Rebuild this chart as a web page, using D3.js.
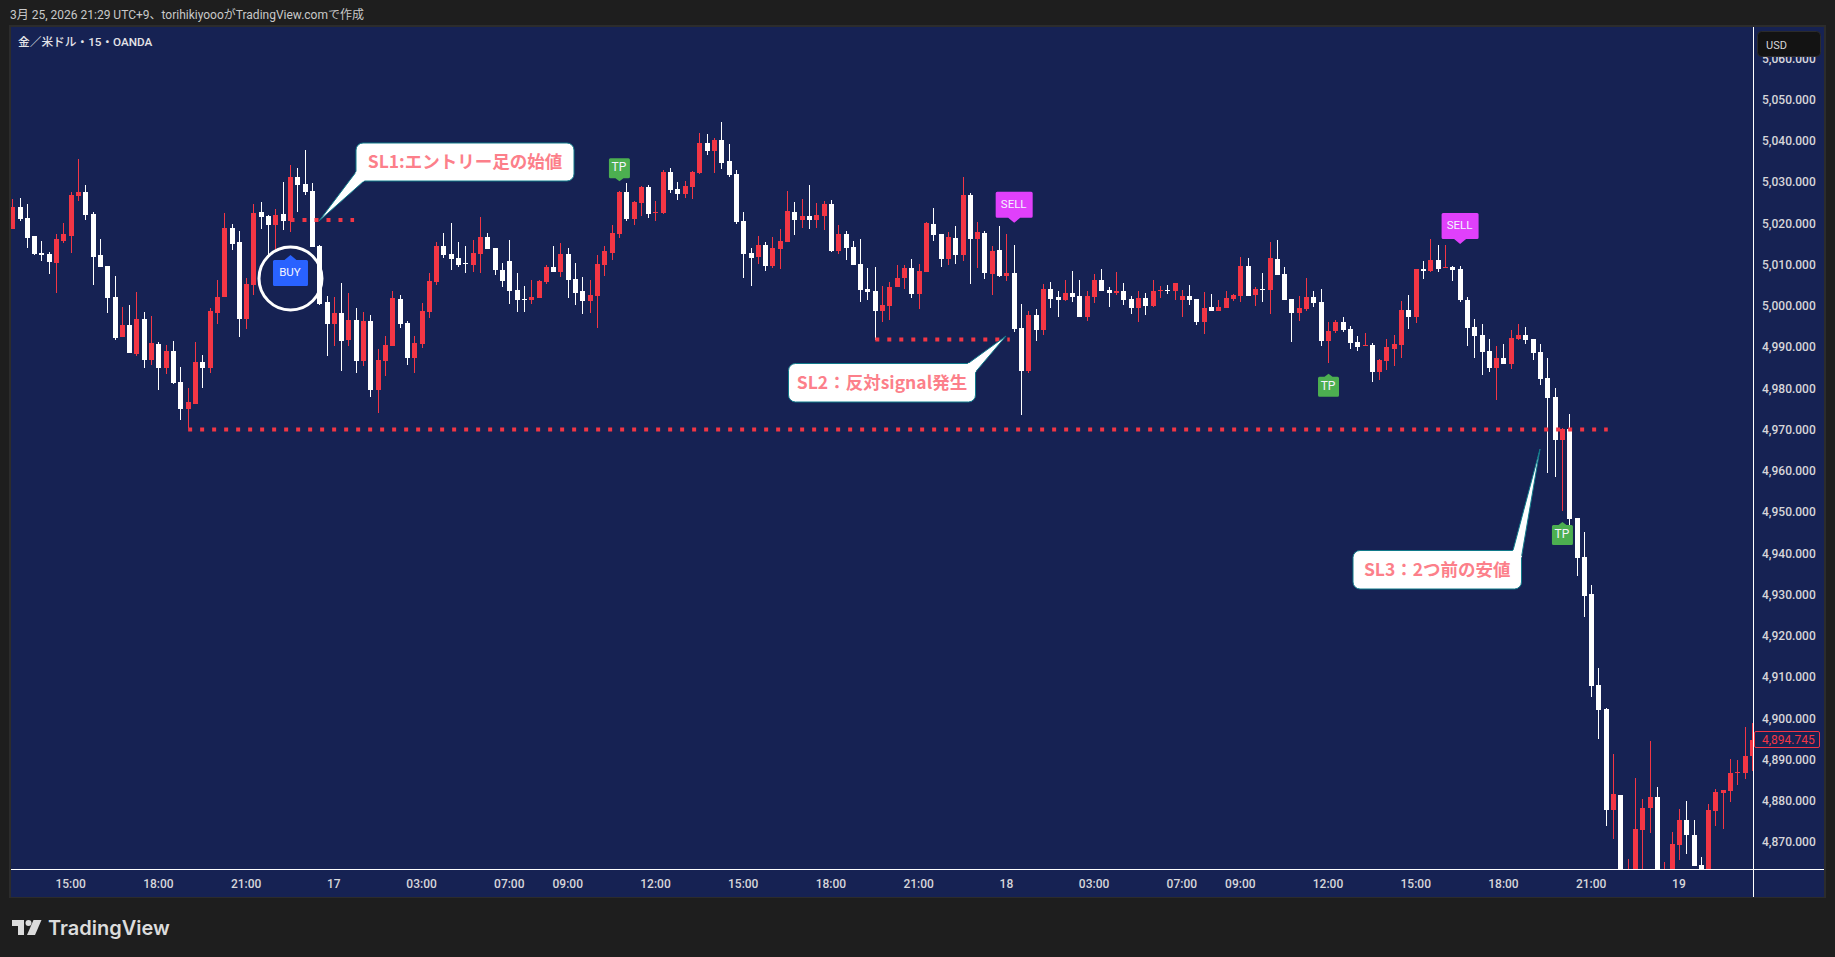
<!DOCTYPE html>
<html>
<head>
<meta charset="utf-8">
<style>
html, body { margin: 0; padding: 0; background: #1e1e1e; overflow: hidden; }
text { font-family: Roboto, "Noto Sans CJK JP", sans-serif; }
</style>
<script src="https://cdn.jsdelivr.net/npm/d3@7"></script>
</head>
<body>
<svg id="chart" width="1835" height="957"></svg>
<script>
// bar number 1 is the leftmost candle on the 15 minute chart
var opens = [
5018.6,5023.9,5021.3,5016.9,5012.8,5012.5,5010.4,5015.7,5016.9,5026.6,5027.6,5022.2,5012.3,5009.6,5002.1,4992.4,4995.3,4988.3,4996.8,4986.9,
4990.7,4984.9,4989.0,4981.5,4975.0,4976.2,4986.4,4984.9,4998.2,5002.1,5018.9,5015.5,4996.8,5005.0,5022.7,5021.8,5019.6,5022.2,5020.5,5031.2,
5029.5,5027.8,5014.5,5000.9,4995.6,4998.2,4991.7,4996.5,4986.6,4996.3,4979.6,4986.6,4990.2,5001.6,4995.8,4987.3,4990.7,4998.5,5005.8,5014.5,
5012.5,5011.6,5010.4,5009.9,5012.5,5016.7,5014.0,5008.7,5010.9,5003.8,5001.6,5001.4,5001.9,5005.8,5009.4,5008.2,5012.5,5006.5,5003.6,5001.2,
5002.4,5009.9,5012.8,5017.4,5027.6,5021.0,5024.9,5028.8,5022.5,5022.5,5032.4,5028.3,5027.1,5028.8,5032.2,5039.5,5037.5,5040.2,5035.1,5031.9,
5020.5,5012.8,5011.8,5014.7,5009.6,5013.8,5015.5,5022.7,5020.8,5021.8,5020.8,5021.8,5024.7,5013.3,5017.4,5014.2,5010.1,5004.1,5003.6,4998.7,
5000.0,5004.5,5006.7,5009.2,5002.8,5008.2,5019.8,5017.4,5011.3,5016.4,5012.3,5026.8,5016.2,5017.6,5007.7,5013.5,5007.2,5007.9,4994.6,4984.2,
4997.8,4994.1,5004.1,5002.1,5001.4,5003.1,5002.4,4997.3,5002.1,5006.2,5003.8,5003.1,5003.6,5001.6,4999.5,5001.9,4999.9,5003.6,5003.8,5003.6,
5001.4,5002.4,5001.6,4996.1,4999.7,4998.7,4999.5,5001.6,5002.4,5009.6,5002.6,5004.1,5003.8,5011.3,5007.7,5001.6,4998.2,4999.2,5002.1,5000.9,
4991.4,4993.9,4996.1,4994.4,4991.2,4990.2,4990.5,4983.9,4986.6,4989.5,4990.5,4999.0,4997.3,5008.9,5008.4,5011.1,5009.2,5009.4,5008.9,5001.4,
4994.9,4992.9,4989.0,4984.9,4987.3,4985.9,4991.9,4992.9,4991.9,4988.8,4982.5,4977.9,4967.5,4970.1,4948.5,4939.1,4930.1,4908.1,4902.2,4877.8,
4881.4,4851.1,4852.7,4872.9,4878.2,4880.9,4854.3,4859.2,4869.3,4875.3,4871.7,4864.4,4857.6,4877.5,4881.9,4882.4,4886.7,4886.7,4890.8];
var closes = [
5023.9,5021.0,5016.4,5012.5,5012.3,5010.6,5016.2,5017.4,5026.9,5027.6,5022.0,5011.8,5009.4,5001.9,4992.2,4995.3,4988.6,4996.8,4986.9,4991.0,
4984.9,4989.0,4981.3,4975.0,4976.7,4986.4,4984.9,4998.7,5002.1,5018.9,5015.0,4996.8,5005.3,5022.5,5021.5,5019.6,5022.0,5020.5,5031.2,5029.3,
5027.6,5014.2,5000.4,4995.6,4998.2,4991.5,4996.5,4986.6,4996.3,4979.6,4986.9,4990.5,5001.9,4995.6,4987.3,4991.0,4998.7,5006.0,5014.5,5012.3,
5011.3,5009.9,5010.1,5012.8,5016.7,5013.8,5008.7,5006.0,5003.6,5001.4,5001.4,5002.1,5006.0,5009.4,5008.2,5012.5,5006.2,5003.1,5001.2,5002.6,
5010.1,5013.3,5017.6,5027.6,5021.0,5025.2,5028.8,5022.2,5022.7,5032.4,5028.1,5027.1,5029.0,5032.4,5039.5,5037.5,5040.2,5034.6,5031.7,5020.3,
5012.5,5011.6,5014.7,5009.6,5014.0,5015.7,5023.0,5020.8,5021.8,5020.8,5022.0,5024.7,5013.3,5017.4,5014.0,5009.9,5003.8,5003.3,4998.7,5000.2,
5004.5,5006.7,5009.2,5002.8,5008.4,5020.1,5017.1,5011.3,5016.7,5012.3,5026.8,5016.2,5017.9,5007.9,5013.3,5007.2,5007.9,4994.4,4984.2,4997.8,
4994.1,5004.1,5001.6,5001.4,5003.1,5002.1,4997.3,5002.4,5006.2,5003.6,5003.1,5003.6,5001.4,4999.5,5001.9,4999.9,5003.6,5003.8,5003.6,5005.5,
5002.4,5001.4,4996.1,4999.5,4998.7,4999.7,5001.9,5002.6,5009.6,5002.4,5004.1,5003.8,5011.6,5007.5,5001.4,4998.2,4999.5,5002.1,5000.7,4991.4,
4993.9,4996.1,4994.1,4991.0,4990.0,4990.5,4983.9,4986.9,4990.0,4990.7,4999.0,4997.3,5008.9,5008.4,5011.1,5008.9,5009.4,5008.7,5001.4,4994.6,
4992.7,4988.8,4984.9,4987.3,4985.9,4992.2,4992.9,4991.7,4988.5,4982.2,4977.6,4967.5,4970.1,4948.3,4938.9,4929.6,4907.8,4902.0,4877.8,4881.6,
4852.7,4862.4,4873.2,4878.2,4880.9,4854.3,4861.6,4869.5,4875.3,4871.7,4864.2,4859.2,4877.8,4882.1,4882.6,4886.7,4887.0,4890.8,4894.7];
var highs = [
5025.9,5026.1,5024.7,5016.9,5015.7,5013.0,5017.4,5020.1,5027.6,5035.6,5029.3,5022.7,5016.2,5009.6,5007.2,4999.7,5000.2,5003.3,4998.5,4997.5,
4991.2,4990.5,4991.5,4985.2,4980.1,4991.2,4988.1,4999.5,5006.2,5022.5,5019.8,5018.1,5006.7,5024.7,5025.2,5022.0,5023.5,5030.0,5034.1,5033.4,
5037.8,5029.8,5014.7,5002.4,5002.1,5005.5,5003.1,4999.5,4998.5,4997.8,4989.5,4992.7,5003.6,5002.6,4996.3,4992.7,5000.7,5007.9,5015.5,5017.6,
5020.1,5015.5,5014.5,5015.9,5021.5,5017.6,5014.0,5010.4,5015.9,5007.9,5004.8,5006.2,5006.2,5009.9,5014.5,5015.2,5014.0,5010.4,5007.0,5006.2,
5012.3,5014.5,5019.6,5027.8,5029.8,5025.4,5029.0,5029.3,5025.4,5032.9,5033.4,5030.0,5030.2,5032.7,5041.9,5041.6,5040.7,5044.5,5039.2,5032.9,
5022.7,5014.0,5016.9,5015.5,5016.7,5018.6,5027.8,5025.2,5025.9,5029.3,5024.9,5025.4,5025.6,5019.6,5018.1,5015.7,5016.2,5009.2,5009.4,5004.8,
5005.8,5009.9,5009.9,5011.3,5010.1,5020.3,5023.7,5017.4,5017.9,5019.3,5031.2,5027.3,5020.3,5018.1,5014.5,5019.3,5017.4,5014.7,5000.4,4998.7,
4999.2,5005.3,5005.8,5003.6,5006.2,5008.4,5006.2,5003.6,5007.7,5008.9,5004.5,5008.2,5005.5,5002.4,5003.6,5003.1,5006.2,5004.8,5005.0,5005.5,
5003.8,5005.0,5001.6,5003.3,5002.8,5001.4,5003.6,5002.8,5011.8,5011.6,5004.5,5007.9,5015.5,5015.9,5009.4,5001.6,5002.4,5006.7,5003.6,5004.1,
4996.1,4996.5,4997.3,4995.1,4992.7,4993.4,4991.0,4987.1,4991.9,4992.9,5001.2,5002.6,5008.9,5010.9,5016.2,5014.7,5014.7,5009.6,5009.6,5002.1,
4996.8,4995.6,4991.9,4990.2,4990.7,4994.1,4995.6,4994.9,4991.9,4990.7,4987.3,4980.1,4970.4,4973.8,4948.5,4945.2,4932.3,4912.2,4902.5,4891.3,
4881.4,4865.9,4885.5,4880.4,4894.5,4883.3,4865.2,4872.4,4878.0,4879.9,4875.3,4866.4,4879.2,4882.8,4882.6,4890.1,4889.9,4897.9,4898.9];
var lows = [
5018.6,5020.5,5014.0,5012.3,5010.9,5007.7,5003.1,5015.2,5012.8,5025.4,5020.8,5005.0,5009.4,4998.2,4991.7,4992.4,4988.6,4987.8,4984.9,4985.6,
4979.6,4983.5,4981.0,4972.3,4970.4,4976.2,4980.1,4983.7,4995.6,5002.1,5013.5,4992.4,4994.4,5002.6,5018.6,5012.3,5013.5,5018.4,5017.9,5022.7,
5026.9,5014.2,5000.2,4987.8,4990.2,4984.2,4990.2,4983.7,4985.4,4977.9,4974.0,4983.0,4990.2,4994.6,4985.6,4983.7,4989.8,4997.0,5005.0,5011.6,
5008.7,5009.4,5007.9,5008.2,5007.9,5013.8,5007.5,5004.5,5000.4,4998.5,4998.5,5000.4,5001.9,5005.3,5008.2,5007.0,5001.9,5000.2,4998.0,4998.2,
4994.6,5007.2,5011.1,5016.4,5020.5,5019.6,5021.8,5021.3,5020.5,5022.2,5027.3,5025.6,5026.1,5025.9,5031.9,5036.6,5032.2,5033.1,5031.2,5019.8,
5006.7,5004.8,5010.1,5008.4,5009.2,5008.9,5015.5,5017.2,5018.9,5018.6,5018.9,5018.4,5013.0,5012.5,5011.1,5009.9,5000.9,5001.4,4991.7,4996.1,
4996.5,5004.5,5004.1,5001.9,4999.2,5008.2,5015.7,5009.4,5009.9,5010.1,5010.8,5005.3,5009.2,5006.5,5002.6,5007.0,5006.0,4993.6,4973.5,4983.7,
4991.4,4992.9,4999.5,4997.3,5001.2,5000.9,4997.3,4996.3,5000.7,5003.6,4999.7,5002.6,5000.2,4998.0,4996.1,4997.8,4999.7,5001.9,5002.8,5001.4,
4997.3,5000.2,4995.3,4993.2,4998.7,4998.7,4999.5,5001.2,5000.9,5002.4,4999.9,5000.9,4998.0,5007.5,5001.4,4991.2,4996.3,4998.7,4999.7,4990.2,
4986.1,4993.4,4993.6,4989.5,4989.0,4990.2,4981.5,4982.0,4984.4,4985.4,4987.3,4994.4,4995.8,5006.5,5008.2,5008.2,5009.2,5006.0,5000.9,4990.2,
4987.3,4983.2,4983.9,4977.2,4985.9,4984.7,4991.7,4990.7,4986.9,4980.8,4959.5,4958.5,4950.3,4946.1,4934.5,4924.5,4905.2,4895.0,4873.9,4870.7,
4849.5,4847.9,4848.7,4859.2,4872.2,4851.1,4851.1,4856.8,4865.6,4867.1,4864.2,4856.8,4855.1,4873.9,4873.2,4879.7,4883.8,4885.3,4887.2];

var priceTicks = [5060,5050,5040,5030,5020,5010,5000,4990,4980,4970,4960,4950,4940,4930,4920,4910,4900,4890,4880,4870];
var lastPrice = 4894.745;

var timeTickBars = [9,21,33,45,57,69,77,89,101,113,125,137,149,161,169,181,193,205,217,229];
var timeTickLabels = ['15:00','18:00','21:00','17','03:00','07:00','09:00','12:00','15:00','18:00','21:00','18','03:00','07:00','09:00','12:00','15:00','18:00','21:00','19'];

// signal labels: bar the tip points at, price at the tip
var signalNames = ['BUY','TP','SELL','TP','SELL','TP'];
var signalBars = [39,84,138,181,199,213];
var signalPrices = [5012.3,5030.2,5020.1,4983.5,5015.0,4947.6];
var signalDirs = ['up','down','down','up','down','up'];

// dotted stop loss levels
var levelFrom = [39,119,25];
var levelTo = [47.7,137.4,219.2];
var levelPrice = [5020.8,4991.8,4970];

var calloutTexts = ['SL1:エントリー足の始値','SL2：反対signal発生','SL3：2つ前の安値'];

var WIDTH = 1835, HEIGHT = 957;
var RED = '#f23645', WHITE = '#ffffff', NAVY = '#162253';
var AXIS_X = 1753, AXIS_Y = 869;

var svg = d3.select('#chart');

var x = d3.scaleLinear().domain([1, 239]).range([12.7, 1752.5]);
var y = d3.scaleLinear().domain([5050, 4870]).range([99.5, 842]);

// panel
svg.append('rect').attr('x', 9).attr('y', 25).attr('width', 1817).attr('height', 873).attr('fill', '#2c2c2c');
svg.append('rect').attr('x', 11).attr('y', 27).attr('width', 1813).attr('height', 870).attr('fill', NAVY);

svg.append('defs').append('clipPath').attr('id', 'plot')
    .append('rect').attr('x', 11).attr('y', 27).attr('width', AXIS_X - 11).attr('height', AXIS_Y - 27);

var plot = svg.append('g').attr('clip-path', 'url(#plot)');
var bars = d3.range(opens.length);

function barColor(i) {
    return closes[i] >= opens[i] ? RED : WHITE;
}

// wicks
plot.append('g').attr('shape-rendering', 'crispEdges').selectAll('rect')
    .data(bars).enter().append('rect')
    .attr('x', function (i) { return Math.round(x(i + 1) - 2.5) + 2; })
    .attr('width', 1)
    .attr('y', function (i) { return Math.round(y(highs[i])); })
    .attr('height', function (i) { return Math.max(1, Math.round(y(lows[i])) - Math.round(y(highs[i]))); })
    .attr('fill', barColor);

// bodies
plot.append('g').attr('shape-rendering', 'crispEdges').selectAll('rect')
    .data(bars).enter().append('rect')
    .attr('x', function (i) { return Math.round(x(i + 1) - 2.5); })
    .attr('width', 5)
    .attr('y', function (i) { return Math.round(y(Math.max(opens[i], closes[i]))); })
    .attr('height', function (i) {
        return Math.max(1, Math.round(y(Math.min(opens[i], closes[i]))) - Math.round(y(Math.max(opens[i], closes[i]))));
    })
    .attr('fill', barColor);

// dotted levels
plot.append('g').selectAll('line')
    .data(levelPrice).enter().append('line')
    .attr('x1', function (d, i) { return x(levelFrom[i]); })
    .attr('x2', function (d, i) { return x(levelTo[i]); })
    .attr('y1', function (d) { return y(d); })
    .attr('y2', function (d) { return y(d); })
    .attr('stroke', RED)
    .attr('stroke-width', 4)
    .attr('stroke-dasharray', '4 8');

// callouts, outline includes the tail
var calloutPaths = [
    { box: [356, 143, 574, 181], tail: [[364, 181], [319, 221], [356, 172]] },
    { box: [788.5, 363.5, 975.5, 402], tail: [[975.5, 372], [1006, 336], [968, 363.5]] },
    { box: [1353, 550.5, 1521.5, 589], tail: [[1513, 550.5], [1540, 449], [1521.5, 557]] }
];

function calloutPath(c) {
    var r = 7, l = c.box[0], t = c.box[1], rt = c.box[2], b = c.box[3];
    var p = d3.path();
    p.moveTo(l + r, t);
    p.lineTo(rt - r, t);
    p.arcTo(rt, t, rt, t + r, r);
    p.lineTo(rt, b - r);
    p.arcTo(rt, b, rt - r, b, r);
    p.lineTo(l + r, b);
    p.arcTo(l, b, l, b - r, r);
    p.lineTo(l, t + r);
    p.arcTo(l, t, l + r, t, r);
    p.closePath();
    return p.toString();
}

var callouts = svg.append('g');
callouts.selectAll('path.box')
    .data(calloutPaths).enter().append('path')
    .attr('class', 'box')
    .attr('d', calloutPath)
    .attr('fill', '#ffffff')
    .attr('stroke', '#0f7a8a')
    .attr('stroke-width', 1);
callouts.selectAll('path.tail')
    .data(calloutPaths).enter().append('path')
    .attr('class', 'tail')
    .attr('d', function (c) { return d3.line()(c.tail); })
    .attr('fill', '#ffffff')
    .attr('stroke', 'none');
callouts.selectAll('path.tailEdge')
    .data(calloutPaths).enter().append('path')
    .attr('class', 'tailEdge')
    .attr('d', function (c) { return 'M' + c.tail[0] + 'L' + c.tail[1] + 'L' + c.tail[2]; })
    .attr('fill', 'none')
    .attr('stroke', '#0f7a8a')
    .attr('stroke-width', 1);
callouts.selectAll('path.cover')
    .data(calloutPaths).enter().append('path')
    .attr('class', 'cover')
    .attr('d', function (c) { return 'M' + c.tail[0] + 'L' + c.tail[2]; })
    .attr('fill', 'none')
    .attr('stroke', '#ffffff')
    .attr('stroke-width', 2);
callouts.selectAll('text')
    .data(calloutTexts).enter().append('text')
    .attr('x', function (d, i) { return (calloutPaths[i].box[0] + calloutPaths[i].box[2]) / 2; })
    .attr('y', function (d, i) { return (calloutPaths[i].box[1] + calloutPaths[i].box[3]) / 2; })
    .attr('dy', '0.36em')
    .attr('text-anchor', 'middle')
    .attr('fill', '#fc7f8a')
    .style('font-family', '"Noto Sans CJK JP", sans-serif')
    .style('font-size', '17.5px')
    .style('font-weight', 700)
    .text(function (d) { return d; });

// signal labels
var signalColor = { BUY: '#2962ff', TP: '#4caf50', SELL: '#e040fb' };
var signalWidth = { BUY: 35, TP: 21, SELL: 37 };
var signalHeight = { BUY: 26, TP: 20, SELL: 26 };

function signalShape(i) {
    var name = signalNames[i], w = signalWidth[name], h = signalHeight[name];
    var cx = x(signalBars[i]), tip = y(signalPrices[i]);
    var dir = signalDirs[i] === 'up' ? 1 : -1;
    var arrow = name === 'TP' ? 3 : 5;
    var near = tip + dir * arrow, far = near + dir * h;
    var p = d3.path();
    p.moveTo(cx, tip);
    p.lineTo(cx + arrow + 1, near);
    p.lineTo(cx + w / 2 - 1.5, near);
    p.quadraticCurveTo(cx + w / 2, near, cx + w / 2, near + dir * 1.5);
    p.lineTo(cx + w / 2, far - dir * 1.5);
    p.quadraticCurveTo(cx + w / 2, far, cx + w / 2 - 1.5, far);
    p.lineTo(cx - w / 2 + 1.5, far);
    p.quadraticCurveTo(cx - w / 2, far, cx - w / 2, far - dir * 1.5);
    p.lineTo(cx - w / 2, near + dir * 1.5);
    p.quadraticCurveTo(cx - w / 2, near, cx - w / 2 + 1.5, near);
    p.lineTo(cx - arrow - 1, near);
    p.closePath();
    return p.toString();
}

var signals = svg.append('g');
signals.selectAll('path')
    .data(signalNames).enter().append('path')
    .attr('d', function (d, i) { return signalShape(i); })
    .attr('fill', function (d) { return signalColor[d]; });
signals.selectAll('text')
    .data(signalNames).enter().append('text')
    .attr('x', function (d, i) { return x(signalBars[i]) - 0.5; })
    .attr('y', function (d, i) {
        var dir = signalDirs[i] === 'up' ? 1 : -1;
        var arrow = d === 'TP' ? 3 : 5;
        return y(signalPrices[i]) + dir * (arrow + signalHeight[d] / 2) - 1;
    })
    .attr('dy', '0.36em')
    .attr('text-anchor', 'middle')
    .attr('fill', '#f4f4ff')
    .style('font-size', function (d) { return d === 'TP' ? '12px' : '11.5px'; })
    .style('font-weight', 400)
    .text(function (d) { return d; });

// ring round the buy label
svg.append('circle')
    .attr('cx', x(signalBars[0]))
    .attr('cy', 278.5)
    .attr('r', 31.5)
    .attr('fill', 'none')
    .attr('stroke', '#ffffff')
    .attr('stroke-width', 3);

// axes
var priceAxis = d3.axisRight(y)
    .tickValues(priceTicks)
    .tickSize(0)
    .tickPadding(9)
    .tickFormat(d3.format(',.3f'));
var priceG = svg.append('g').attr('transform', 'translate(' + AXIS_X + ',0)').call(priceAxis);
priceG.select('.domain').remove();
priceG.selectAll('text')
    .attr('fill', '#d6d6da')
    .style('font-family', 'Roboto, sans-serif')
    .style('font-size', '12px')
    .style('font-weight', 500);

var timeAxis = d3.axisBottom(x)
    .tickValues(timeTickBars)
    .tickSize(0)
    .tickPadding(10)
    .tickFormat(function (d, i) { return timeTickLabels[i]; });
var timeG = svg.append('g').attr('transform', 'translate(-1,' + AXIS_Y + ')').call(timeAxis);
timeG.select('.domain').remove();
timeG.selectAll('text')
    .attr('fill', '#d6d6da')
    .style('font-family', 'Roboto, sans-serif')
    .style('font-size', '12px')
    .style('font-weight', 500);

// axis border lines
svg.append('line').attr('x1', 11).attr('x2', 1824).attr('y1', AXIS_Y).attr('y2', AXIS_Y)
    .attr('stroke', '#ffffff').attr('shape-rendering', 'crispEdges');
svg.append('line').attr('x1', AXIS_X + 0.5).attr('x2', AXIS_X + 0.5).attr('y1', 27).attr('y2', 897)
    .attr('stroke', '#ffffff').attr('shape-rendering', 'crispEdges');

// last price tag
svg.append('rect')
    .attr('x', 1754.5).attr('y', Math.round(y(lastPrice)) - 8.5)
    .attr('width', 65).attr('height', 16).attr('rx', 1.5)
    .attr('fill', NAVY).attr('stroke', RED);
svg.append('text')
    .attr('x', 1762).attr('y', y(lastPrice))
    .attr('dy', '0.34em')
    .attr('fill', RED)
    .style('font-size', '12px')
    .style('font-weight', 400)
    .text(d3.format(',.3f')(lastPrice));

// currency box
svg.append('rect')
    .attr('x', 1757.5).attr('y', 31.5).attr('width', 63).attr('height', 25).attr('rx', 4)
    .attr('fill', '#131313').attr('stroke', '#2b2b2b');
svg.append('text')
    .attr('x', 1766).attr('y', 45).attr('dy', '0.35em')
    .attr('fill', '#d6d6da')
    .style('font-size', '11px')
    .text('USD');

// header text
svg.append('text')
    .attr('x', 10).attr('y', 15).attr('dy', '0.35em')
    .attr('fill', '#c9c9c9')
    .style('font-size', '12px')
    .text('3月 25, 2026 21:29 UTC+9、torihikiyoooがTradingView.comで作成');
svg.append('text')
    .attr('x', 18).attr('y', 42).attr('dy', '0.35em')
    .attr('fill', '#e4e4e8')
    .style('font-size', '11.7px')
    .style('font-weight', 500)
    .text('金／米ドル・15・OANDA');

// logo
var logo = svg.append('g').attr('fill', '#dcdcdc').attr('transform', 'translate(0,1)');
logo.append('path').attr('d', 'M12 919H24V934H18V925H12Z');
logo.append('circle').attr('cx', 28.5).attr('cy', 922).attr('r', 3);
logo.append('path').attr('d', 'M33.5 919H41.5L35 934H27Z');
logo.append('text')
    .attr('x', 48).attr('y', 934)
    .style('font-family', 'Inter, sans-serif')
    .style('font-size', '20px')
    .style('font-weight', 600)
    .text('TradingView');
</script>
</body>
</html>
